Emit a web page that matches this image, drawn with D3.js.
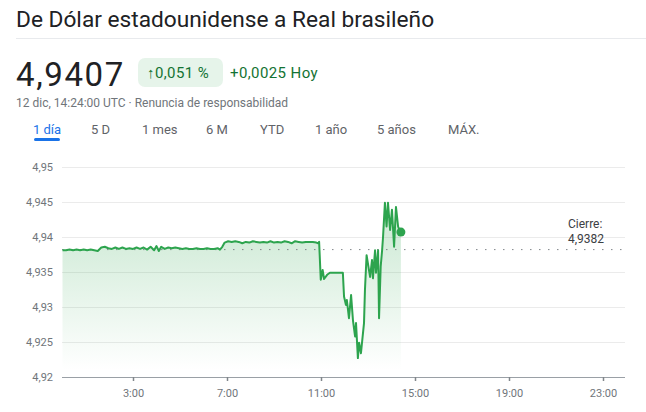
<!DOCTYPE html>
<html><head><meta charset="utf-8">
<script src="https://cdn.jsdelivr.net/npm/d3@7"></script>
<style>
html,body{margin:0;padding:0;background:#fff;}
svg{display:block;font-family:Roboto,Arial,sans-serif;}
</style></head>
<body><svg id="c" width="646" height="412"></svg>
<script>
const title = "De Dólar estadounidense a Real brasileño";
const price = "4,9407";
const changePct = "0,051 %";
const changeAbs = "+0,0025 Hoy";
const subtitle = "12 dic, 14:24:00 UTC · Renuncia de responsabilidad";
const tabs = ["1 día","5 D","1 mes","6 M","YTD","1 año","5 años","MÁX."];
const yTicks = [4.92,4.925,4.93,4.935,4.94,4.945,4.95];
const yTickLabels = ["4,92","4,925","4,93","4,935","4,94","4,945","4,95"];
const xTicks = [3,7,11,15,19,23];
const xTickLabels = ["3:00","7:00","11:00","15:00","19:00","23:00"];
const prevClose = 4.9382;
const prevCloseLabel = ["Cierre:","4,9382"];
const hours = [0,0.15,0.3,0.45,0.6,0.75,0.9,1.05,1.2,1.35,1.5,1.65,1.8,1.95,2.1,2.25,2.4,2.55,2.7,2.85,3.0,3.15,3.3,3.45,3.6,3.75,3.9,4.0,4.1,4.2,4.35,4.5,4.65,4.8,4.95,5.1,5.25,5.4,5.55,5.7,5.85,6.0,6.15,6.3,6.45,6.6,6.7,6.8,6.9,7.05,7.2,7.35,7.5,7.65,7.8,7.95,8.1,8.25,8.4,8.55,8.7,8.85,9.0,9.15,9.3,9.45,9.6,9.75,9.9,10.05,10.2,10.35,10.5,10.65,10.8,10.88,10.92,
10.99,11.07,11.13,11.26,11.38,11.93,11.98,12.06,12.10,12.19,12.28,12.36,12.45,12.49,12.57,12.62,12.70,12.83,12.87,12.94,13.04,13.09,13.17,13.21,13.30,13.34,13.43,13.47,13.54,13.60,13.64,13.72,13.79,13.85,13.94,14.02,14.11,14.19,14.28,14.36,14.40];
const rates = [4.9381,4.9381,4.9382,4.9381,4.9382,4.9381,4.9382,4.9381,4.9382,4.9381,4.9380,4.9385,4.9386,4.9384,4.9383,4.9385,4.9383,4.9385,4.9383,4.9384,4.9383,4.9385,4.9383,4.9385,4.9382,4.9386,4.9381,4.9387,4.9380,4.9386,4.9383,4.9385,4.9384,4.9385,4.9384,4.9383,4.9384,4.9383,4.9383,4.9384,4.9383,4.9383,4.9384,4.9383,4.9383,4.9384,4.9382,4.9386,4.9392,4.9394,4.9393,4.9394,4.9393,4.9391,4.9393,4.9392,4.9394,4.9393,4.9392,4.9393,4.9392,4.9394,4.9392,4.9393,4.9392,4.9394,4.9393,4.9391,4.9394,4.9393,4.9392,4.9393,4.9393,4.9393,4.9392,4.9391,4.9393,
4.9339,4.9353,4.9340,4.9346,4.9349,4.9349,4.9315,4.9303,4.9310,4.9284,4.9317,4.9281,4.9258,4.9277,4.9227,4.9249,4.9234,4.9277,4.9324,4.9374,4.9353,4.9343,4.9367,4.9341,4.9381,4.9349,4.9381,4.9284,4.9358,4.9381,4.9400,4.9449,4.9415,4.9449,4.9410,4.9439,4.9386,4.9443,4.9415,4.9408,4.9407];

const svg = d3.select("#c");
const green = "#137333";

// Header
svg.append("text").attr("x",16).attr("y",27).attr("font-size",22.7).attr("fill","#202124").text(title);
svg.append("line").attr("x1",16).attr("x2",646).attr("y1",38.5).attr("y2",38.5).attr("stroke","#e8eaed");
svg.append("text").attr("x",16).attr("y",86).attr("font-size",33).attr("letter-spacing",1.6).attr("fill","#202124").text(price);
svg.append("rect").attr("x",138).attr("y",58).attr("width",85).attr("height",29).attr("rx",7).attr("fill","#e6f4ea");
svg.append("text").attr("x",147).attr("y",78).attr("font-size",15).attr("letter-spacing",0.4).attr("fill",green).text("↑" + changePct);
svg.append("text").attr("x",230).attr("y",78).attr("font-size",15).attr("letter-spacing",0.4).attr("fill",green).text(changeAbs);
svg.append("text").attr("x",16).attr("y",107).attr("font-size",12).attr("fill","#70757a").text(subtitle);
const tabX = [33,91,142,206,260,315,377,448];
tabs.forEach((t,i)=>{
  svg.append("text").attr("x",tabX[i]).attr("y",134).attr("font-size",13)
    .attr("fill", i===0 ? "#1a73e8" : "#5f6368").text(t);
});
svg.append("rect").attr("x",34).attr("y",138).attr("width",26).attr("height",3).attr("rx",1.5).attr("fill","#1a73e8");

// Chart
const x = d3.scaleLinear().domain([0,24]).range([62.5,626.5]);
const y = d3.scaleLinear().domain([4.92,4.95]).range([377,167]);
const data = hours.map((h,i)=>({h, v:rates[i]}));

const g = svg.append("g");
yTicks.forEach((t,i)=>{
  if(i>0) g.append("line").attr("x1",62).attr("x2",625).attr("y1",Math.round(y(t))+0.5).attr("y2",Math.round(y(t))+0.5).attr("stroke","#ebebeb");
  g.append("text").attr("x",53).attr("y",y(t)+4).attr("text-anchor","end").attr("font-size",11).attr("fill","#70757a").text(yTickLabels[i]);
});

const defs = svg.append("defs");
const grad = defs.append("linearGradient").attr("id","gf").attr("gradientUnits","userSpaceOnUse")
  .attr("x1",0).attr("x2",0).attr("y1",235).attr("y2",370);
grad.append("stop").attr("offset",0).attr("stop-color","#34a853").attr("stop-opacity",0.22);
grad.append("stop").attr("offset",1).attr("stop-color","#34a853").attr("stop-opacity",0);

g.append("path").datum(data)
  .attr("d", d3.area().x(d=>x(d.h)).y0(y(4.92)).y1(d=>y(d.v)))
  .attr("fill","url(#gf)");

g.append("line").attr("x1",62).attr("x2",625).attr("y1",y(prevClose)).attr("y2",y(prevClose))
  .attr("stroke","#80868b").attr("stroke-width",1).attr("stroke-dasharray","1.5,7.5");

g.append("path").datum(data)
  .attr("d", d3.line().x(d=>x(d.h)).y(d=>y(d.v)))
  .attr("fill","none").attr("stroke","#2da44e").attr("stroke-width",2).attr("stroke-linejoin","round");

const last = data[data.length-1];
g.append("circle").attr("cx",x(last.h)).attr("cy",y(last.v)).attr("r",4.5).attr("fill","#2da44e");

g.append("text").attr("x",568).attr("y",228).attr("font-size",12).attr("fill","#3c4043").text(prevCloseLabel[0]);
g.append("text").attr("x",568).attr("y",243).attr("font-size",12).attr("fill","#3c4043").text(prevCloseLabel[1]);

// x axis
const ax = svg.append("g").attr("transform",`translate(0,${y(4.92)})`)
  .call(d3.axisBottom(x).tickValues(xTicks).tickFormat((d,i)=>xTickLabels[i]).tickSize(4).tickPadding(8));
ax.select(".domain").attr("stroke","#9aa0a6").attr("d","M62,0.5H625");
ax.selectAll(".tick line").attr("stroke","#80868b").attr("stroke-width",1.5);
ax.selectAll(".tick text").attr("font-size",11).attr("fill","#70757a").attr("font-family","Roboto,Arial,sans-serif");
</script></body></html>
